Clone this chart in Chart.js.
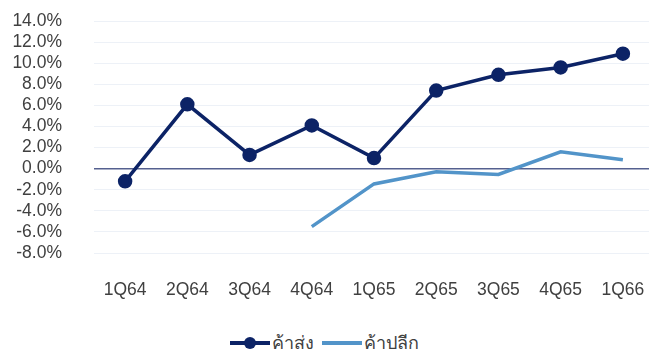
<!DOCTYPE html>
<html>
<head>
<meta charset="utf-8">
<script src="https://cdn.jsdelivr.net/npm/chart.js@4.4.1/dist/chart.umd.min.js"></script>
<style>
  html, body { margin: 0; padding: 0; background: #fff; overflow: hidden; width: 649px; height: 351px; }
  #wrap { position: relative; width: 663px; height: 310px; }
  #legend { position: absolute; top: 328px; left: 0; width: 649px; text-align: center;
            font-family: "Liberation Sans", Arial, sans-serif; font-size: 18px; color: #404040; }
  .item { display: inline-flex; align-items: center; margin: 0 4px; }
  .swatch { position: relative; width: 40px; height: 4px; margin-right: 2px; }
  .dot { position: absolute; left: 14px; top: -4px; width: 12px; height: 12px; border-radius: 50%; }
</style>
</head>
<body>
<div id="wrap"><canvas id="chart" width="663" height="310"></canvas></div>
<div id="legend"></div>
<script>
// quarters (Thai fiscal notation)
const quarters = ['1Q64', '2Q64', '3Q64', '4Q64', '1Q65', '2Q65', '3Q65', '4Q65', '1Q66'];

// growth, % yoy
const wholesale = [-1.2, 6.1, 1.3, 4.1, 1.0, 7.4, 8.9, 9.6, 10.9];
const retail = [null, null, null, -5.5, -1.45, -0.3, -0.55, 1.6, 0.85];

const seriesNames = ['ค้าส่ง', 'ค้าปลีก'];
const darkBlue = '#0c2366';
const lightBlue = '#5294c9';
const tickFont = { family: '"Liberation Sans", Arial, sans-serif', size: 17.5 };

const ctx = document.getElementById('chart').getContext('2d');
new Chart(ctx, {
    type: 'line',
    data: {
        labels: quarters,
        datasets: [
            {
                label: seriesNames[0],
                data: wholesale,
                borderColor: darkBlue,
                backgroundColor: darkBlue,
                borderWidth: 3.5,
                pointRadius: 5.5,
                pointHoverRadius: 5.5,
                tension: 0
            },
            {
                label: seriesNames[1],
                data: retail,
                borderColor: lightBlue,
                backgroundColor: lightBlue,
                borderWidth: 3.5,
                pointRadius: 0,
                tension: 0,
                spanGaps: false
            }
        ]
    },
    options: {
        responsive: false,
        animation: false,
        layout: { padding: { top: 21, right: 0, left: 0, bottom: 0 } },
        plugins: {
            legend: { display: false },
            tooltip: { enabled: false }
        },
        scales: {
            x: {
                offset: true,
                grid: { display: false, drawTicks: false },
                border: { display: false },
                ticks: {
                    autoSkip: false,
                    maxRotation: 0,
                    padding: 27,
                    color: '#404040',
                    font: tickFont
                },
                afterFit: scale => {
                    scale.height = 57;
                    scale.paddingLeft = 0;
                    scale.paddingRight = 0;
                }
            },
            y: {
                min: -8,
                max: 14,
                grid: {
                    drawTicks: false,
                    color: c => c.tick.value === 0 ? '#55608f' : '#edf1f7',
                    lineWidth: c => c.tick.value === 0 ? 1.5 : 1
                },
                border: { display: false },
                ticks: {
                    autoSkip: false,
                    stepSize: 2,
                    padding: 32,
                    color: '#404040',
                    font: tickFont,
                    callback: v => v.toFixed(1) + '%'
                },
                afterFit: scale => {
                    // keep the wide label gap from pushing the plot down
                    scale.width = 94;
                    scale.paddingTop = 0;
                    scale.paddingBottom = 0;
                }
            }
        }
    }
});

// legend underneath the plot
const legend = document.getElementById('legend');
[[seriesNames[0], darkBlue, true], [seriesNames[1], lightBlue, false]].forEach(([name, color, marker]) => {
    const item = document.createElement('span');
    item.className = 'item';
    const sw = document.createElement('span');
    sw.className = 'swatch';
    sw.style.background = color;
    if (marker) {
        const dot = document.createElement('span');
        dot.className = 'dot';
        dot.style.background = color;
        sw.appendChild(dot);
    }
    item.appendChild(sw);
    item.appendChild(document.createTextNode(name));
    legend.appendChild(item);
});
</script>
</body>
</html>
